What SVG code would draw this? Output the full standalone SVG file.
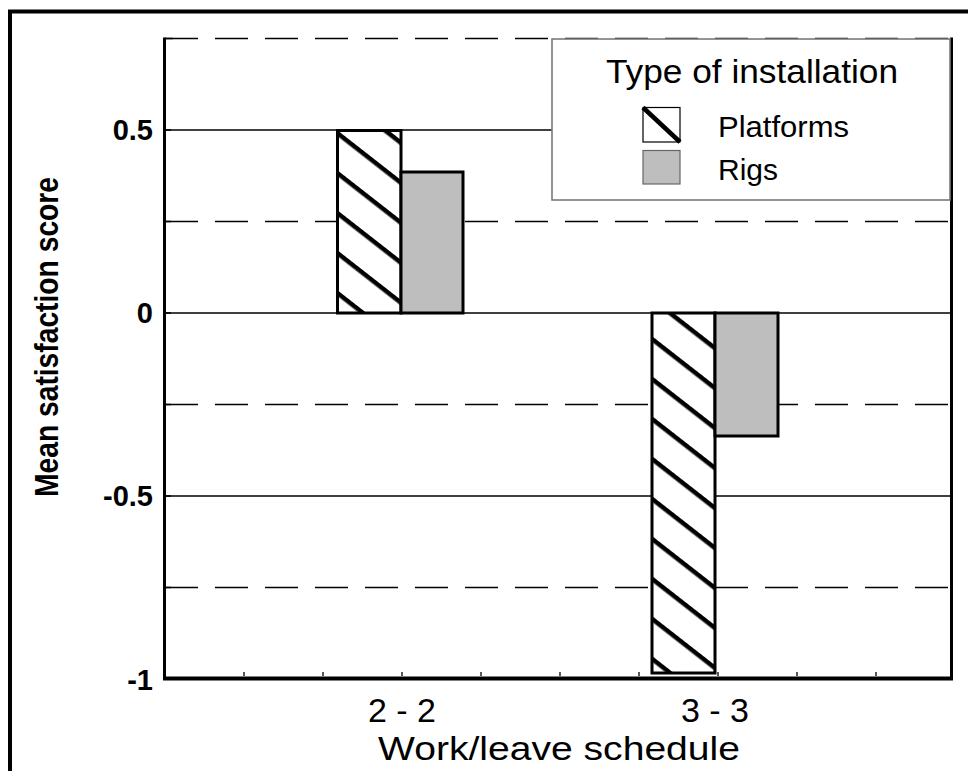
<svg xmlns="http://www.w3.org/2000/svg" width="968" height="771" viewBox="0 0 968 771">
<style>
.grid{stroke:#000;stroke-width:1.3;fill:none}
.dash{stroke:#000;stroke-width:1.3;fill:none;stroke-dasharray:33 17}
.axis{stroke:#000;fill:none}
.tick{font-family:"Liberation Sans",Arial,sans-serif;font-weight:bold;font-size:29px;text-anchor:end;fill:#000}
.cat{font-family:"Liberation Sans",Arial,sans-serif;font-size:34px;text-anchor:middle;fill:#000}
.leg{font-family:"Liberation Sans",Arial,sans-serif;font-size:30px;fill:#000}
.plat{fill:url(#hatch);stroke:#000;stroke-width:3}
.rig{fill:#bebebe;stroke:#000;stroke-width:3}
</style>
<defs>
<pattern id="hatch" patternUnits="userSpaceOnUse" width="20" height="31.5" patternTransform="translate(337 130) rotate(38)">
<rect width="20" height="31.5" fill="#fff"/>
<line x1="0" y1="2" x2="20" y2="2" stroke="#000" stroke-width="5"/>
</pattern>
</defs>
<rect x="0" y="0" width="968" height="771" fill="#fff"/>
<rect x="10" y="11.5" width="980" height="790" fill="none" stroke="#000" stroke-width="4"/>
<g id="grid">
<line class="dash" x1="165" y1="38.5" x2="950" y2="38.5"/>
<line class="grid" x1="165" y1="130" x2="950" y2="130"/>
<line class="dash" x1="165" y1="221.5" x2="950" y2="221.5"/>
<line class="grid" x1="165" y1="313" x2="950" y2="313"/>
<line class="dash" x1="165" y1="404.5" x2="950" y2="404.5"/>
<line class="grid" x1="165" y1="496" x2="950" y2="496"/>
<line class="dash" x1="165" y1="587.5" x2="950" y2="587.5"/>
</g>
<g id="axes">
<line class="axis" x1="164.5" y1="37.5" x2="164.5" y2="680" stroke-width="3"/>
<line class="axis" x1="951.5" y1="37.5" x2="951.5" y2="680" stroke-width="3"/>
<line class="axis" x1="163" y1="678.5" x2="953" y2="678.5" stroke-width="4"/>
<path class="axis" stroke-width="1.3" d="M165 38.5h8M165 130h6M165 221.5h6M165 313h6M165 404.5h6M165 496h6M165 587.5h6M244 676v-4M323 676v-4M402 676v-4M481 676v-4M560 676v-4M639 676v-4M718 676v-4M797 676v-4M876 676v-4"/>
</g>
<g id="ticklabels">
<text class="tick" x="153" y="140">0.5</text>
<text class="tick" x="153" y="323">0</text>
<text class="tick" x="153" y="506">-0.5</text>
<text class="tick" x="153" y="690">-1</text>
</g>
<g id="bars">
<rect id="bar-22-platforms" class="plat" x="337.5" y="130.5" width="63.5" height="182.5"/>
<rect id="bar-22-rigs" class="rig" x="401" y="172" width="62" height="141"/>
<rect id="bar-33-platforms" class="plat" x="652" y="313" width="63" height="360"/>
<rect id="bar-33-rigs" class="rig" x="715" y="313" width="63" height="123"/>
</g>
<g id="legend">
<rect x="552" y="39" width="398" height="161" fill="#fff" stroke="#7a7a7a" stroke-width="1.6"/>
<text x="752" y="83" class="leg" text-anchor="middle" style="font-size:34px" textLength="292" lengthAdjust="spacingAndGlyphs">Type of installation</text>
<rect x="643" y="107.5" width="37" height="34.5" fill="#fff" stroke="#000" stroke-width="1.2"/>
<line x1="643" y1="107.5" x2="680" y2="142" stroke="#000" stroke-width="4.5"/>
<text class="leg" x="718" y="137" textLength="131" lengthAdjust="spacingAndGlyphs">Platforms</text>
<rect x="643" y="150.5" width="37" height="33.5" fill="#bebebe" stroke="#666" stroke-width="1.2"/>
<text class="leg" x="718" y="180">Rigs</text>
</g>
<g id="xlabels">
<text class="cat" x="402" y="722">2 - 2</text>
<text class="cat" x="715" y="722">3 - 3</text>
<text class="cat" x="559" y="760" textLength="362" lengthAdjust="spacingAndGlyphs">Work/leave schedule</text>
</g>
<text transform="translate(58 337) rotate(-90)" font-family="'Liberation Sans',Arial,sans-serif" font-weight="bold" font-size="33" text-anchor="middle" textLength="320" lengthAdjust="spacingAndGlyphs">Mean satisfaction score</text>
</svg>
